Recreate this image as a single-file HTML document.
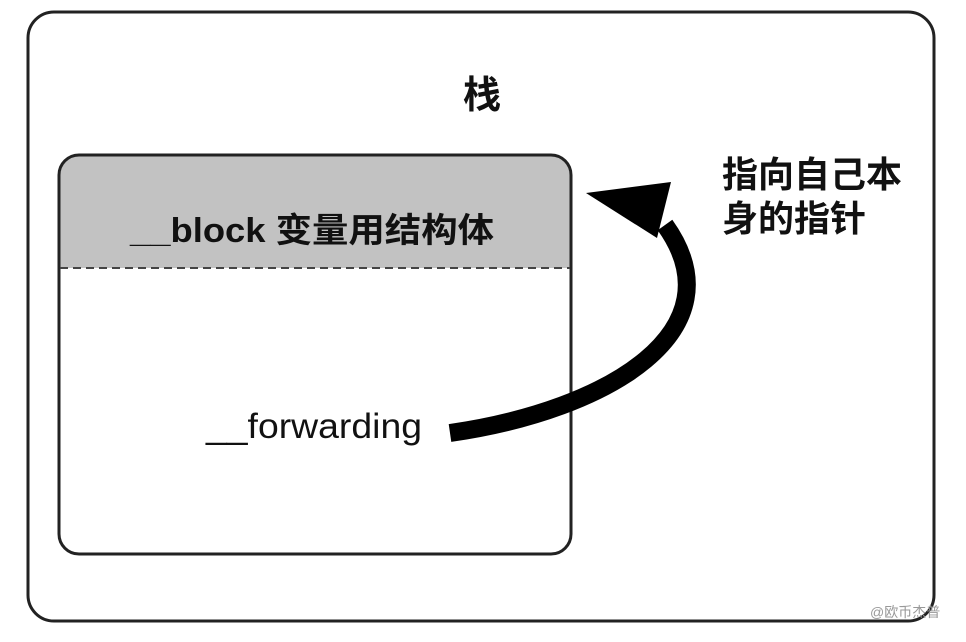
<!DOCTYPE html>
<html><head><meta charset="utf-8"><style>
body{margin:0;width:966px;height:642px;background:#fff;overflow:hidden}
svg{display:block}
text{font-family:"Liberation Sans","Noto Sans CJK SC",sans-serif;fill:#111}
</style></head><body>
<svg width="966" height="642" viewBox="0 0 966 642">
<rect x="28" y="12" width="906" height="609" rx="26" fill="#fff" stroke="#222" stroke-width="3"/>
<text x="482" y="108" font-size="38" font-weight="bold" text-anchor="middle">栈</text>
<path d="M79,155 H551 A20,20 0 0 1 571,175 V268 H59 V175 A20,20 0 0 1 79,155 Z" fill="#c2c2c2"/>
<rect x="59" y="155" width="512" height="399" rx="20" fill="none" stroke="#222" stroke-width="3"/>
<line x1="60" y1="268" x2="570" y2="268" stroke="#444" stroke-width="2" stroke-dasharray="8,5"/>
<text x="312" y="242" font-size="34" font-weight="bold" text-anchor="middle" textLength="364" lengthAdjust="spacingAndGlyphs">__block 变量用结构体</text>
<text x="314" y="438" font-size="35" text-anchor="middle" textLength="216" lengthAdjust="spacingAndGlyphs">__forwarding</text>
<path d="M450,433 C610,410 740,330 665,225" fill="none" stroke="#000" stroke-width="18"/>
<polygon points="586,193 671,182 657,238" fill="#000"/>
<text x="722" y="187" font-size="36" font-weight="bold">指向自己本</text>
<text x="722" y="231" font-size="36" font-weight="bold">身的指针</text>
<text x="870" y="617" font-size="14" style="fill:#999">@欧币杰普</text>
</svg>
</body></html>
